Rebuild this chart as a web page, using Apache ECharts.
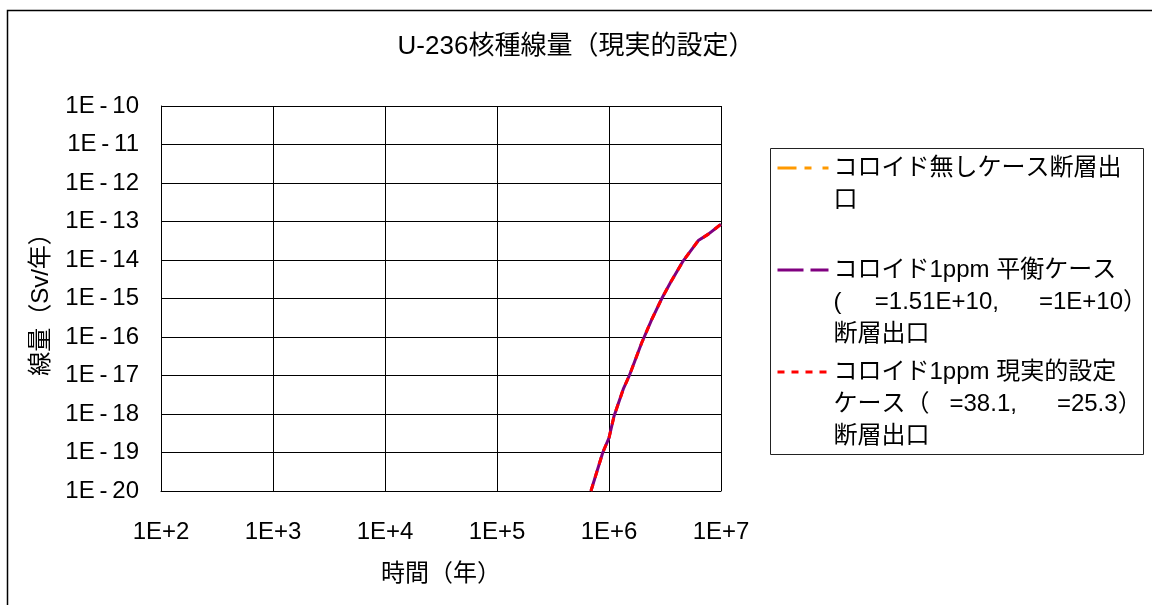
<!DOCTYPE html>
<html>
<head>
<meta charset="utf-8">
<script src="https://cdn.jsdelivr.net/npm/echarts@6/dist/echarts.min.js"></script>
<style>
  html, body { margin: 0; padding: 0; background: #fff; }
  #chart { width: 1152px; height: 605px; }
</style>
</head>
<body>
<div id="chart"></div>
<script>
// Time after closure (years) and dose at the fault outlet (Sv/year) for U-236
const timeYears = [6.9e5, 8.8e5, 1.0e6, 1.11e6, 1.34e6, 1.52e6, 1.96e6, 2.40e6, 2.96e6, 3.51e6, 4.60e6, 6.27e6, 7.71e6, 1.0e7];
const doseNoColloid   = [1.0e-20, 1.0e-19, 2.4e-19, 8.9e-19, 4.4e-18, 1.0e-17, 7.1e-17, 2.8e-16, 1.0e-15, 2.5e-15, 9.5e-15, 3.2e-14, 4.7e-14, 8.5e-14];
const doseEquilibrium = [1.0e-20, 1.0e-19, 2.4e-19, 8.9e-19, 4.4e-18, 1.0e-17, 7.1e-17, 2.8e-16, 1.0e-15, 2.5e-15, 9.5e-15, 3.2e-14, 4.7e-14, 8.5e-14];
const doseRealistic   = [1.0e-20, 1.0e-19, 2.4e-19, 8.9e-19, 4.4e-18, 1.0e-17, 7.1e-17, 2.8e-16, 1.0e-15, 2.5e-15, 9.5e-15, 3.2e-14, 4.7e-14, 8.5e-14];

// Axis tick labels by decade
const xExponents = [2, 3, 4, 5, 6, 7];
const xTickLabels = ['1E+2', '1E+3', '1E+4', '1E+5', '1E+6', '1E+7'];
const yExponents = [-20, -19, -18, -17, -16, -15, -14, -13, -12, -11, -10];
const yTickLabels = ['1E\u2009-\u200920', '1E\u2009-\u200919', '1E\u2009-\u200918', '1E\u2009-\u200917', '1E\u2009-\u200916',
                     '1E\u2009-\u200915', '1E\u2009-\u200914', '1E\u2009-\u200913', '1E\u2009-\u200912', '1E\u2009-\u200911', '1E\u2009-\u200910'];

// Legend text, one array of lines per series
const legendLines = [
  ['コロイド無しケース断層出', '口'],
  ['コロイド1ppm 平衡ケース', '(     =1.51E+10,      =1E+10）', '断層出口'],
  ['コロイド1ppm 現実的設定', 'ケース（   =38.1,      =25.3）', '断層出口']
];
const seriesNames = legendLines.map(l => l.join(''));

// Line colours and dash patterns of the three cases
const seriesColors = ['#FF9900', '#800080', '#FF0000'];
const legendDashes = [[19, 8, 7, 11], [26, 7], [7, 7]];

const FONT = "'Liberation Sans', 'Noto Sans CJK JP', sans-serif";
const chart = echarts.init(document.getElementById('chart'), null, { renderer: 'canvas' });

function pairs(ys) { return timeYears.map((t, i) => [t, ys[i]]); }
function tickLabel(exps, labels) {
  return v => {
    const i = exps.indexOf(Math.round(Math.log10(v)));
    return i < 0 ? '' : labels[i];
  };
}
function legendFor(i, iconY) {
  const n = legendLines[i].length;
  const blockH = (2 * n - 1) * 32;
  return {
    data: [seriesNames[i]],
    orient: 'vertical',
    left: 776,
    top: iconY - blockH / 2,
    padding: 0,
    itemWidth: 51,
    itemHeight: 14,
    selectedMode: false,
    itemStyle: { color: 'rgba(0,0,0,0)', borderColor: 'rgba(0,0,0,0)', borderWidth: 0, opacity: 0 },
    lineStyle: { color: seriesColors[i], width: 3, type: legendDashes[i] },
    formatter: () => '\n'.repeat(n - 1) + legendLines[i].join('\n'),
    textStyle: { fontFamily: FONT, fontSize: 24, lineHeight: 32, color: '#000' }
  };
}

const lineBase = { type: 'line', symbol: 'none', showSymbol: false, smooth: false, animation: false };

chart.setOption({
  backgroundColor: '#fff',
  animation: false,
  title: {
    text: 'U-236核種線量（現実的設定）',
    left: 'center',
    top: 29,
    textStyle: { fontFamily: FONT, fontSize: 26, fontWeight: 'normal', color: '#000' }
  },
  grid: { left: 161, right: 431, top: 106, bottom: 114, containLabel: false },
  xAxis: {
    type: 'log', logBase: 10, min: 100, max: 1e7, interval: 1,
    name: '時間（年）', nameLocation: 'middle', nameGap: 71,
    nameTextStyle: { fontFamily: FONT, fontSize: 24, color: '#000' },
    axisLine: { lineStyle: { color: '#000', width: 1 } },
    axisTick: { show: false },
    axisLabel: { formatter: tickLabel(xExponents, xTickLabels), fontFamily: FONT, fontSize: 24, color: '#000', margin: 29 },
    splitLine: { show: true, lineStyle: { color: '#000', width: 1 } },
    minorSplitLine: { show: false }
  },
  yAxis: {
    type: 'log', logBase: 10, min: 1e-20, max: 1e-10, interval: 1,
    name: '線量（Sv/年）', nameLocation: 'middle', nameGap: 108, nameRotate: 90,
    nameTextStyle: { fontFamily: FONT, fontSize: 24, color: '#000' },
    axisLine: { show: true, lineStyle: { color: '#000', width: 1 } },
    axisTick: { show: false },
    axisLabel: { formatter: tickLabel(yExponents, yTickLabels), fontFamily: FONT, fontSize: 24, color: '#000', margin: 22 },
    splitLine: { show: true, lineStyle: { color: '#000', width: 1 } }
  },
  legend: [legendFor(0, 168), legendFor(1, 270), legendFor(2, 372)],
  graphic: [
    { type: 'rect', left: 5, top: 8, shape: { width: 1300, height: 800 }, style: { fill: 'none', stroke: '#000', lineWidth: 1.5 }, silent: true },
    { type: 'rect', left: 768, top: 146, shape: { width: 373, height: 306 }, style: { fill: 'none', stroke: '#222', lineWidth: 1 }, silent: true }
  ],
  series: [
    // drawn first and thinnest so it sits underneath the coincident curves
    Object.assign({}, lineBase, { name: seriesNames[0], data: pairs(doseNoColloid), z: 2,
      lineStyle: { color: seriesColors[0], width: 2, type: legendDashes[0] }, itemStyle: { color: seriesColors[0] } }),
    Object.assign({}, lineBase, { name: seriesNames[1], data: pairs(doseEquilibrium), z: 3,
      lineStyle: { color: seriesColors[1], width: 3, type: 'solid' }, itemStyle: { color: seriesColors[1] } }),
    Object.assign({}, lineBase, { name: seriesNames[2], data: pairs(doseRealistic), z: 4,
      lineStyle: { color: seriesColors[2], width: 3, type: legendDashes[2] }, itemStyle: { color: seriesColors[2] } })
  ]
});
</script>
</body>
</html>
